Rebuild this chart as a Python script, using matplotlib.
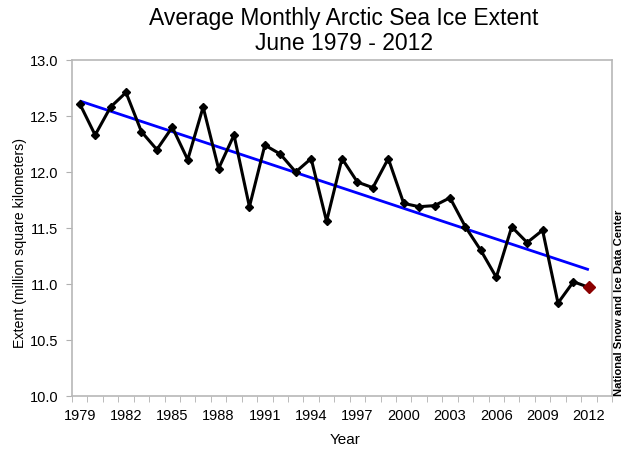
import numpy as np
import matplotlib
matplotlib.use("Agg")
import matplotlib.pyplot as plt
from matplotlib.ticker import FixedLocator, MultipleLocator, FormatStrFormatter

years = list(range(1979, 2013))
extent = [12.61, 12.33, 12.58, 12.71, 12.36, 12.20, 12.40, 12.11, 12.58, 12.03,
          12.33, 11.69, 12.24, 12.16, 12.00, 12.12, 11.56, 12.12, 11.91, 11.86,
          12.12, 11.72, 11.69, 11.70, 11.77, 11.51, 11.30, 11.06, 11.51, 11.37,
          11.48, 10.83, 11.02, 10.97]
tick_years = list(range(1979, 2013, 3))

plt.rcParams['font.family'] = ['Liberation Sans', 'DejaVu Sans']

fig = plt.figure(figsize=(6.4, 4.64), dpi=100)
ax = fig.add_axes([72/640, 1-397/464, (612-72)/640, (397-61)/464])

x = np.array(years, dtype=float)
y = np.array(extent)
slope, intercept = np.polyfit(x, y, 1)
ax.plot(x, slope*x + intercept, color='#0000FF', lw=2.0, zorder=2, solid_capstyle='butt')
ax.plot(x, y, color='black', lw=2.2, marker='D', ms=4, zorder=3)
ax.plot(x[-1:], y[-1:], linestyle='none', marker='D', ms=6, color='#8B0000', zorder=4)

ax.set_xlim(1978.5, 2013.5)
ax.set_ylim(10.0, 13.0)
ax.xaxis.set_major_locator(FixedLocator(tick_years))
ax.xaxis.set_minor_locator(FixedLocator(np.arange(1978.5, 2014, 1.0)))
ax.tick_params(axis='x', which='major', length=0, labelsize=10.5, pad=9)
ax.tick_params(axis='x', which='minor', length=4, color='#b0b0b0', direction='out')
ax.yaxis.set_major_locator(MultipleLocator(0.5))
ax.yaxis.set_major_formatter(FormatStrFormatter('%.1f'))
ax.tick_params(axis='y', length=4, color='#b0b0b0', direction='out', labelsize=10.5, pad=6)
for s in ax.spines.values():
    s.set_color('#b8b8b8')
    s.set_linewidth(1.2)

fig.text(345/640, 1-440/464, 'Year', ha='center', va='center', fontsize=11)
fig.text(20/640, 1-243/464, 'Extent (million square kilometers)', rotation=90,
         ha='center', va='center', fontsize=10.2)

fig.text(344/640, 1-18/464, 'Average Monthly Arctic Sea Ice Extent', ha='center', va='center', fontsize=16.5)
fig.text(344/640, 1-43/464, 'June 1979 - 2012', ha='center', va='center', fontsize=16.5)
fig.text(619/640, 1-396/464, 'National Snow and Ice Data Center', rotation=90,
         ha='center', va='bottom', fontsize=8.1, fontweight='bold')

fig.savefig('out.png', dpi=100)
